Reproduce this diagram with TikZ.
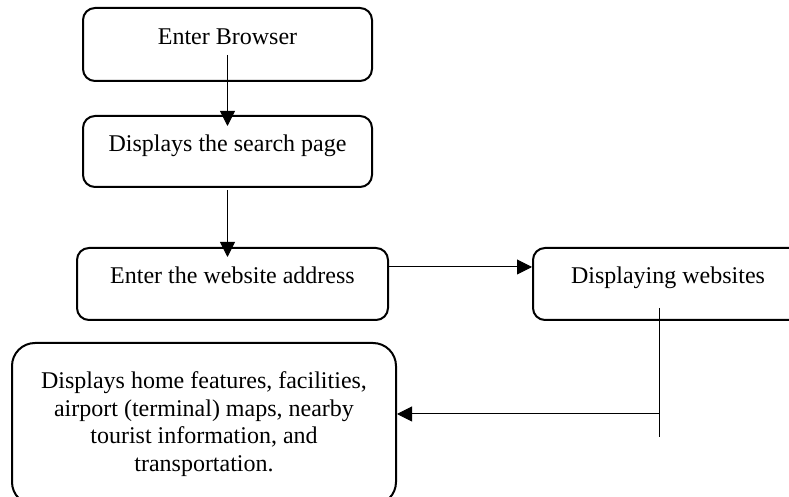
\documentclass[tikz,border=0pt]{standalone}
\usepackage{fontspec}
\setmainfont{Liberation Serif}
\usetikzlibrary{arrows.meta}
\begin{document}
\begin{tikzpicture}[x=0.5pt,y=-0.5pt,
  box/.style={draw=black, line width=1pt, rounded corners=6pt, fill=white,
    font=\fontsize{12}{13.8}\selectfont, text height=4pt, text depth=4pt, inner sep=0pt},
  bigbox/.style={draw=black, line width=1pt, rounded corners=11.5pt, fill=white,
    font=\fontsize{12}{13.8}\selectfont, align=center, inner sep=0pt},
  conn/.style={line width=0.5pt, draw=black},
  arr/.style={conn, -{Triangle[length=7.5pt,width=7.5pt]}}]
\useasboundingbox (0,0) rectangle (789,497);
\clip (0,0) rectangle (789,497);
\fill[white] (0,0) rectangle (789,497);
\node[box, minimum width=144.5pt, minimum height=36.5pt] (b1) at (227.5,44.5) {Enter Browser};
\node[box, minimum width=144.5pt, minimum height=35.5pt] (b2) at (227.5,151.5) {Displays the search page};
\node[box, minimum width=155.5pt, minimum height=36pt] (b3) at (232.5,284) {Enter the website address};
\node[box, minimum width=135pt, minimum height=36pt] (b4) at (668,284) {Displaying websites};
\node[bigbox, minimum width=192pt, minimum height=81pt] (b5) at (204,424)
  {Displays home features, facilities,\\airport (terminal) maps, nearby\\tourist information, and\\transportation.};
\draw[arr] ([yshift=-5.25pt]b1.center) -- ([yshift=-5.5pt]b2.north);
\draw[arr] ([yshift=-1pt]b2.south) -- ([yshift=-5pt]b2.south |- b3.north);
\draw[arr] ([yshift=8.5pt]b3.east) -- ([yshift=8.5pt]b4.west);
\coordinate (v1) at (659,308);
\coordinate (v2) at (659,437);
\coordinate (j) at (659,414);
\draw[conn] (v1) -- (v2);
\draw[arr] (j) -- (j -| b5.east);
\end{tikzpicture}
\end{document}
